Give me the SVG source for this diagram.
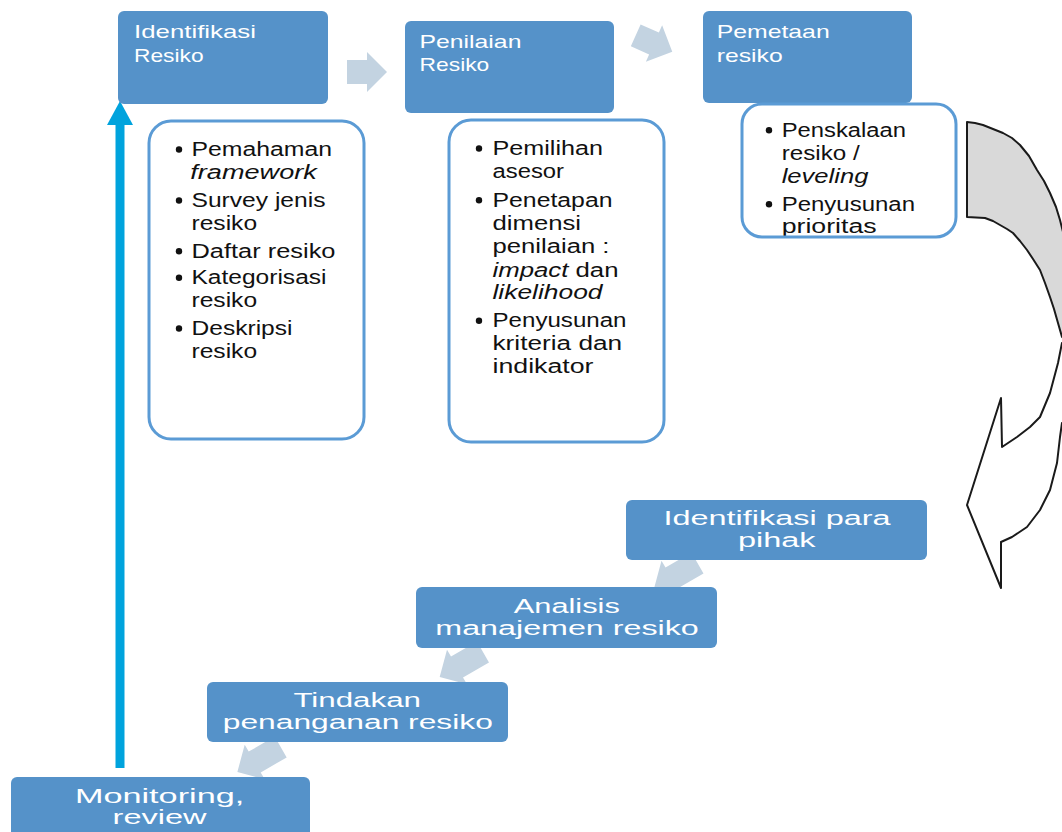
<svg xmlns="http://www.w3.org/2000/svg" width="1062" height="832" viewBox="0 0 1062 832">
<style>
.box{fill:#5592C9;}
.t{font-family:"Liberation Sans",Arial,sans-serif;font-size:19px;fill:#fff;}
.lt{font-family:"Liberation Sans",Arial,sans-serif;font-size:19.5px;fill:#fff;}
.card{fill:#fff;}
.cardb{fill:none;stroke:#5B9BD5;stroke-width:3;}
.b{font-family:"Liberation Sans",Arial,sans-serif;font-size:20px;fill:#111;}
.i{font-style:italic;}
.dot{fill:#111;}
.arr{fill:#C3D3E1;}
.curve{stroke:#1a1a1a;stroke-width:2;stroke-linejoin:round;}
</style>
<defs>
<polygon id="harr" points="-20,-12 0,-12 0,-20 20,0 0,20 0,12 -20,12"/>
<polygon id="darr" points="-30,-12 0,-12 0,-20 20,0 0,20 0,12 -30,12"/>
</defs>
<rect width="1062" height="832" fill="#fff"/>
<g id="connectors">
<use href="#harr" class="arr" transform="translate(367,72)"/>
<use href="#harr" class="arr" transform="translate(654,43.5) rotate(24)"/>
<use href="#darr" class="arr" transform="translate(671.5,578) rotate(150)"/>
<use href="#darr" class="arr" transform="translate(457,667) rotate(150)"/>
<use href="#darr" class="arr" transform="translate(254.7,762) rotate(150)"/>
<g id="loop-back">
<rect x="115.5" y="122" width="9" height="646" fill="#00A3DD"/>
<polygon points="107,125 120,101 133,125" fill="#00A3DD"/>
</g>
<g id="curved-arrow">
<polygon class="curve" fill="#D9D9D9" points="967,122 975,123 983,125 993,129 1003,133 1012,138 1020,145 1029,156 1037,170 1044,181 1050,193 1056,207 1060,220 1063,232 1075,232 1075,345 1062,337 1058,323 1054,309 1050,297 1045,283 1040,270 1033,259 1027,250 1020,241 1013,233 1007,229 1000,225 993,221 985,218 967,217"/>
<polygon class="curve" fill="#fff" points="1075,340 1062,343 1058,363 1054,378 1050,393 1045,405 1040,417 1030,427 1017,437 1002,447 1001,398 967,505 1001,588 1001,542 1012,537 1027,527 1040,510 1050,490 1057,463 1060,437 1062,423 1075,420"/>
</g>
</g>

<g id="identifikasi-resiko">
<rect class="box" x="118" y="11" width="210" height="93" rx="6"/>
<text class="t" x="134" y="38.3" textLength="122" lengthAdjust="spacingAndGlyphs">Identifikasi</text>
<text class="t" x="134" y="61.7" textLength="69.6" lengthAdjust="spacingAndGlyphs">Resiko</text>
</g>
<g id="penilaian-resiko">
<rect class="box" x="405" y="21" width="209" height="92" rx="6"/>
<text class="t" x="419.6" y="48.3" textLength="101.8" lengthAdjust="spacingAndGlyphs">Penilaian</text>
<text class="t" x="419.6" y="71" textLength="69.7" lengthAdjust="spacingAndGlyphs">Resiko</text>
</g>
<g id="pemetaan-resiko">
<rect class="box" x="703" y="11" width="209" height="92" rx="6"/>
<text class="t" x="716.7" y="38.3" textLength="113" lengthAdjust="spacingAndGlyphs">Pemetaan</text>
<text class="t" x="716.7" y="61.7" textLength="66" lengthAdjust="spacingAndGlyphs">resiko</text>
</g>

<g id="list-identifikasi">
<rect class="card" x="149" y="121" width="215" height="318" rx="22"/>
<circle class="dot" cx="179" cy="149.5" r="3.2"/>
<circle class="dot" cx="179" cy="200.5" r="3.2"/>
<circle class="dot" cx="179" cy="251.2" r="3.2"/>
<circle class="dot" cx="179" cy="277.8" r="3.2"/>
<circle class="dot" cx="179" cy="328.5" r="3.2"/>
<text class="b" x="191.5" y="156" textLength="140.5" lengthAdjust="spacingAndGlyphs">Pemahaman</text>
<text class="b i" x="190.3" y="179" textLength="126.5" lengthAdjust="spacingAndGlyphs">framework</text>
<text class="b" x="191.5" y="207.3" textLength="134" lengthAdjust="spacingAndGlyphs">Survey jenis</text>
<text class="b" x="191.5" y="230" textLength="65.6" lengthAdjust="spacingAndGlyphs">resiko</text>
<text class="b" x="191.5" y="257.7" textLength="144" lengthAdjust="spacingAndGlyphs">Daftar resiko</text>
<text class="b" x="191.5" y="284.3" textLength="135" lengthAdjust="spacingAndGlyphs">Kategorisasi</text>
<text class="b" x="191.5" y="307.3" textLength="65.6" lengthAdjust="spacingAndGlyphs">resiko</text>
<text class="b" x="191.5" y="335" textLength="101" lengthAdjust="spacingAndGlyphs">Deskripsi</text>
<text class="b" x="191.5" y="358.3" textLength="65.6" lengthAdjust="spacingAndGlyphs">resiko</text>
<rect class="cardb" x="149" y="121" width="215" height="318" rx="22"/>
</g>

<g id="list-penilaian">
<rect class="card" x="449" y="120" width="215" height="322" rx="22"/>
<circle class="dot" cx="479" cy="148.5" r="3.2"/>
<circle class="dot" cx="479" cy="200.2" r="3.2"/>
<circle class="dot" cx="479" cy="320.8" r="3.2"/>
<text class="b" x="492.5" y="155" textLength="110.5" lengthAdjust="spacingAndGlyphs">Pemilihan</text>
<text class="b" x="492.5" y="178.3" textLength="71.5" lengthAdjust="spacingAndGlyphs">asesor</text>
<text class="b" x="492.5" y="206.7" textLength="120" lengthAdjust="spacingAndGlyphs">Penetapan</text>
<text class="b" x="492.5" y="230" textLength="88.5" lengthAdjust="spacingAndGlyphs">dimensi</text>
<text class="b" x="492.5" y="252.7" textLength="117" lengthAdjust="spacingAndGlyphs">penilaian :</text>
<text class="b" x="492.5" y="276.7" textLength="126" lengthAdjust="spacingAndGlyphs"><tspan class="i">impact</tspan> dan</text>
<text class="b i" x="492.5" y="299.3" textLength="110" lengthAdjust="spacingAndGlyphs">likelihood</text>
<text class="b" x="492.5" y="327.3" textLength="134" lengthAdjust="spacingAndGlyphs">Penyusunan</text>
<text class="b" x="492.5" y="350" textLength="129.6" lengthAdjust="spacingAndGlyphs">kriteria dan</text>
<text class="b" x="492.5" y="373.3" textLength="101" lengthAdjust="spacingAndGlyphs">indikator</text>
<rect class="cardb" x="449" y="120" width="215" height="322" rx="22"/>
</g>

<g id="list-pemetaan">
<rect class="card" x="742" y="104" width="214" height="133" rx="20"/>
<circle class="dot" cx="769" cy="130.2" r="3.2"/>
<circle class="dot" cx="769" cy="204.2" r="3.2"/>
<text class="b" x="781.7" y="136.7" textLength="124.3" lengthAdjust="spacingAndGlyphs">Penskalaan</text>
<text class="b" x="781.7" y="160" textLength="78" lengthAdjust="spacingAndGlyphs">resiko /</text>
<text class="b i" x="781.7" y="183.3" textLength="86.7" lengthAdjust="spacingAndGlyphs">leveling</text>
<text class="b" x="781.7" y="210.7" textLength="133.3" lengthAdjust="spacingAndGlyphs">Penyusunan</text>
<text class="b" x="781.7" y="233.3" textLength="95" lengthAdjust="spacingAndGlyphs">prioritas</text>
<rect class="cardb" x="742" y="104" width="214" height="133" rx="20"/>
</g>

<g id="identifikasi-para-pihak">
<rect class="box" x="626" y="500" width="301" height="60" rx="6"/>
<text class="lt" x="663.5" y="525" textLength="227" lengthAdjust="spacingAndGlyphs">Identifikasi para</text>
<text class="lt" x="738" y="546.7" textLength="77.6" lengthAdjust="spacingAndGlyphs">pihak</text>
</g>
<g id="analisis-manajemen-resiko">
<rect class="box" x="416" y="587" width="301" height="61" rx="6"/>
<text class="lt" x="513.8" y="613.3" textLength="106" lengthAdjust="spacingAndGlyphs">Analisis</text>
<text class="lt" x="435.3" y="635" textLength="263.5" lengthAdjust="spacingAndGlyphs">manajemen resiko</text>
</g>
<g id="tindakan-penanganan-resiko">
<rect class="box" x="207" y="682" width="301" height="60" rx="6"/>
<text class="lt" x="293.4" y="707.3" textLength="127.6" lengthAdjust="spacingAndGlyphs">Tindakan</text>
<text class="lt" x="222.8" y="729" textLength="270" lengthAdjust="spacingAndGlyphs">penanganan resiko</text>
</g>
<g id="monitoring-review">
<rect class="box" x="11" y="777" width="299" height="70" rx="6"/>
<text class="lt" x="74.9" y="803.3" textLength="169.4" lengthAdjust="spacingAndGlyphs">Monitoring,</text>
<text class="lt" x="112.6" y="824.3" textLength="94" lengthAdjust="spacingAndGlyphs">review</text>
</g>
</svg>
